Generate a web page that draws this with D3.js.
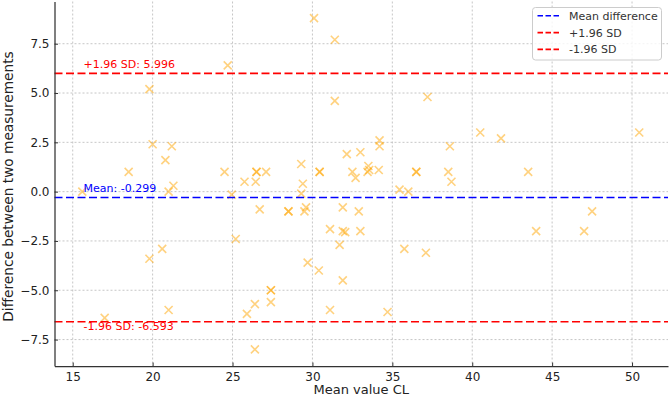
<!DOCTYPE html>
<html>
<head>
<meta charset="utf-8">
<script src="https://cdn.jsdelivr.net/npm/d3@7"></script>
<style>
  body { margin: 0; background: #fff; }
  text { font-family: "DejaVu Sans", sans-serif; }
</style>
</head>
<body>
<div id="chart"></div>
<script>
// Bland-Altman data: mean of the two measurements vs their difference
var meanVals = [24.7, 19.8, 20.0, 21.2, 20.8, 18.5, 24.5, 15.6, 21.0, 21.3,
  24.95, 30.1, 31.4, 31.4, 37.2, 25.75, 26.5, 26.5, 26.45, 27.1,
  29.3, 29.4, 29.3, 30.45, 30.45, 32.15, 33.0, 34.2, 34.2, 32.5,
  32.7, 33.5, 33.55, 33.45, 34.15, 35.45, 36.0, 36.5, 36.5, 38.6,
  38.5, 38.7, 40.5, 41.8, 43.5, 50.45, 25.2, 20.6, 19.8, 21.0,
  17.0, 26.7, 28.5, 28.5, 29.5, 29.6, 31.9, 32.9, 31.1, 31.9,
  32.05, 33.0, 31.7, 35.75, 37.1, 29.7, 30.4, 31.9, 27.4, 27.4,
  27.4, 26.4, 25.9, 31.1, 34.7, 26.4, 47.5, 44.0, 47.0];
var diffVals = [6.4, 5.2, 2.4, 2.3, 1.6, 1.0, 1.0, 0.0, 0.0, 0.3,
  -0.15, 8.8, 7.7, 4.6, 4.8, 0.5, 1.0, 1.0, 0.5, 1.0,
  1.4, 0.4, -0.1, 1.0, 1.0, 1.9, 2.0, 2.6, 2.3, 1.0,
  0.7, 1.3, 1.1, 1.0, 1.1, 0.1, 0.0, 1.0, 1.0, 2.3,
  1.0, 0.5, 3.0, 2.7, 1.0, 3.0, -2.4, -2.9, -3.4, -6.0,
  -6.4, -0.9, -1.0, -1.0, -1.0, -0.8, -0.8, -1.0, -1.9, -2.0,
  -2.05, -2.0, -2.7, -2.9, -3.1, -3.6, -4.0, -4.5, -5.0, -5.0,
  -5.6, -5.7, -6.2, -6.0, -6.1, -8.0, -1.0, -2.0, -2.0];

var meanDiff = -0.299,
    upperLoA = 5.996,
    lowerLoA = -6.593;

var xTicks = [15, 20, 25, 30, 35, 40, 45, 50];
var yTicks = [-7.5, -5.0, -2.5, 0.0, 2.5, 5.0, 7.5];

var legendLabels = ["Mean difference", "+1.96 SD", "-1.96 SD"];
var legendColors = ["blue", "red", "red"];

////////////////basic layout//////////////////
var W = 669, H = 399;
var pL = 54.5, pR = 668, pT = 1.5, pB = 366;

var svg = d3.select("#chart")
  .append("svg")
    .attr("width", W)
    .attr("height", H);

var x = d3.scaleLinear().domain([13.86, 52.25]).range([pL, pR]);
var y = d3.scaleLinear().domain([-8.84, 9.64]).range([pB, pT]);

// grid
var grid = svg.append("g");
grid.selectAll(".gx").data(xTicks).enter().append("line")
  .attr("x1", function(d) { return x(d); })
  .attr("x2", function(d) { return x(d); })
  .attr("y1", pT).attr("y2", pB)
  .attr("stroke", "#b8b8b8").attr("stroke-width", 0.8)
  .attr("stroke-dasharray", "2,2");
grid.selectAll(".gy").data(yTicks).enter().append("line")
  .attr("x1", pL).attr("x2", pR)
  .attr("y1", function(d) { return y(d); })
  .attr("y2", function(d) { return y(d); })
  .attr("stroke", "#b8b8b8").attr("stroke-width", 0.8)
  .attr("stroke-dasharray", "2,2");

// points
var pts = meanVals.map(function(m, i) { return {m: m, d: diffVals[i]}; });
svg.append("g").selectAll("path")
  .data(pts)
  .enter()
  .append("path")
    .attr("transform", function(d) { return "translate(" + x(d.m) + "," + y(d.d) + ")"; })
    .attr("d", "M-4,-4L4,4M-4,4L4,-4")
    .attr("stroke", "#ffa500")
    .attr("stroke-opacity", 0.5)
    .attr("stroke-width", 1.6)
    .attr("fill", "none");

// reference lines
var refLines = [
  {v: meanDiff, c: "blue"},
  {v: upperLoA, c: "red"},
  {v: lowerLoA, c: "red"}
];
svg.append("g").selectAll("line")
  .data(refLines)
  .enter()
  .append("line")
    .attr("x1", pL).attr("x2", pR)
    .attr("y1", function(d) { return y(d.v); })
    .attr("y2", function(d) { return y(d.v); })
    .attr("stroke", function(d) { return d.c; })
    .attr("stroke-width", 1.6)
    .attr("stroke-dasharray", "8,3.5");

// annotations
var labX = x(15.68);
svg.append("text").attr("x", labX).attr("y", y(upperLoA) - 5.5)
  .attr("fill", "red").attr("font-size", "11px")
  .text("+1.96 SD: " + upperLoA.toFixed(3));
svg.append("text").attr("x", labX).attr("y", y(meanDiff) - 5.5)
  .attr("fill", "blue").attr("font-size", "11px")
  .text("Mean: " + meanDiff.toFixed(3));
svg.append("text").attr("x", labX).attr("y", y(lowerLoA) + 8)
  .attr("fill", "red").attr("font-size", "11px")
  .text("-1.96 SD: " + lowerLoA.toFixed(3));

// axes
var xAxis = svg.append("g")
  .attr("transform", "translate(0," + pB + ")")
  .call(d3.axisBottom(x).tickValues(xTicks).tickSizeInner(-3.5).tickSizeOuter(0).tickPadding(6)
    .tickFormat(d3.format("d")));
var yAxis = svg.append("g")
  .attr("transform", "translate(" + pL + ",0)")
  .call(d3.axisLeft(y).tickValues(yTicks).tickSizeInner(-3.5).tickSizeOuter(0).tickPadding(5)
    .tickFormat(function(d) { return d3.format(".1f")(d).replace("-", "\u2212"); }));

[xAxis, yAxis].forEach(function(a) {
  a.select(".domain").attr("stroke", "#333").attr("stroke-width", 1.25);
  a.selectAll(".tick line").attr("stroke", "#333").attr("stroke-width", 1);
  a.selectAll(".tick text").attr("font-size", "12px").attr("fill", "#222")
    .attr("font-family", "DejaVu Sans, sans-serif");
});

// axis labels
svg.append("text")
  .attr("x", (pL + pR) / 2)
  .attr("y", 394)
  .attr("text-anchor", "middle")
  .attr("font-size", "13px")
  .attr("fill", "#222")
  .text("Mean value CL");
svg.append("text")
  .attr("transform", "translate(13,186.5) rotate(-90)")
  .attr("text-anchor", "middle")
  .attr("font-size", "13.7px")
  .attr("fill", "#222")
  .text("Difference between two measurements");

// legend
var lg = svg.append("g").attr("transform", "translate(532.5,7.5)");
lg.append("rect")
  .attr("width", 129).attr("height", 52.5)
  .attr("rx", 3)
  .attr("fill", "white").attr("fill-opacity", 0.8)
  .attr("stroke", "#cccccc").attr("stroke-width", 1);
lg.selectAll(".item")
  .data(legendLabels)
  .enter()
  .append("g")
    .attr("transform", function(d, i) { return "translate(0," + (8.3 + i * 16.8) + ")"; })
    .each(function(d, i) {
      var g = d3.select(this);
      g.append("line")
        .attr("x1", 5).attr("x2", 27.5)
        .attr("stroke", legendColors[i]).attr("stroke-width", 1.6)
        .attr("stroke-dasharray", "5.5,2.5");
      g.append("text")
        .attr("x", 36.5).attr("y", 4)
        .attr("font-size", "11px")
        .attr("fill", "#333")
        .text(d);
    });
</script>
</body>
</html>
